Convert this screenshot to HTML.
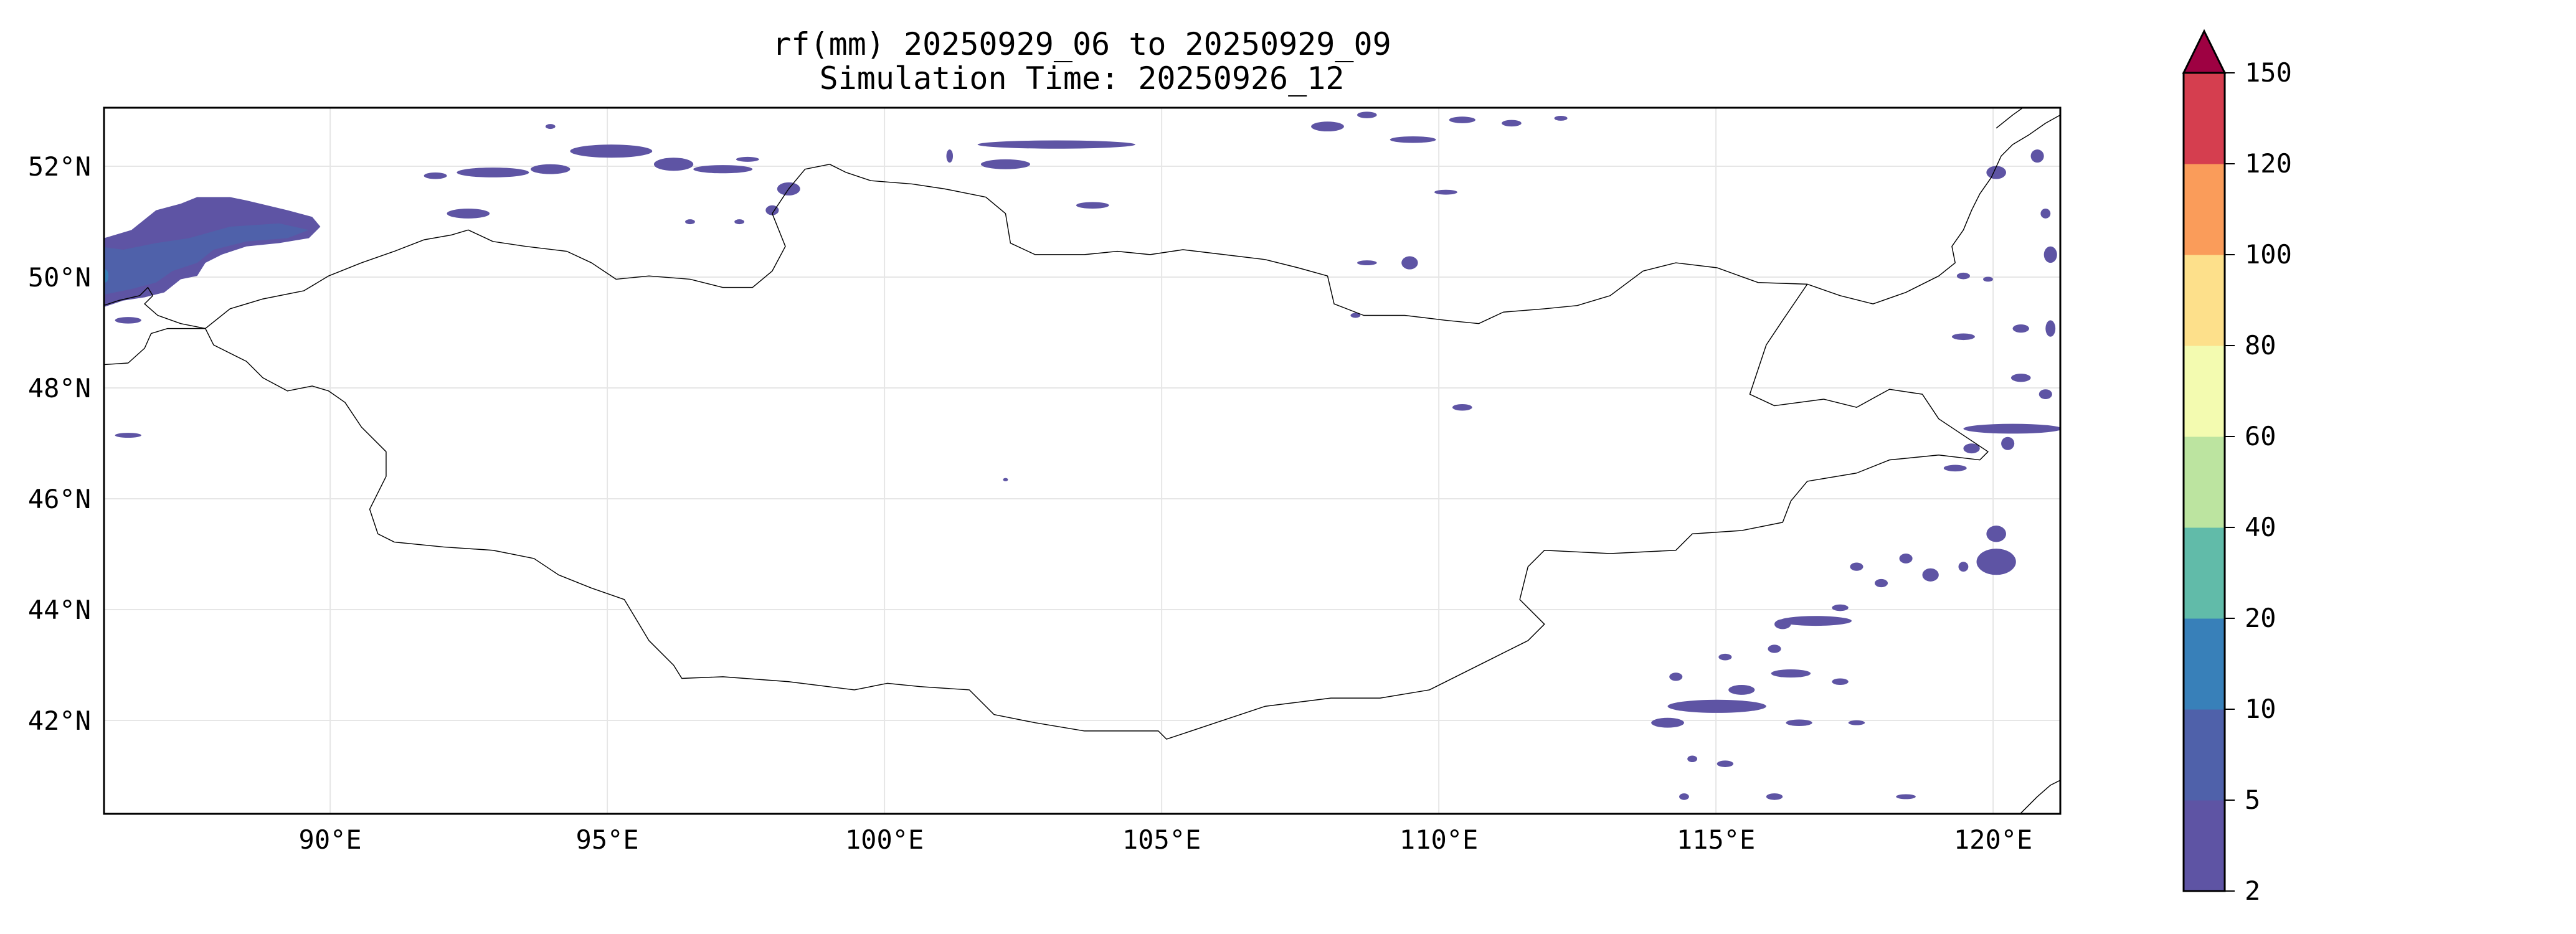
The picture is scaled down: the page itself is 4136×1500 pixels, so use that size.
<!DOCTYPE html>
<html><head><meta charset="utf-8"><style>
html,body{margin:0;padding:0;background:#fff;}
svg{display:block;font-family:"DejaVu Sans Mono","Liberation Mono",monospace;}
</style></head><body>
<svg id="fig" width="4136" height="1500" viewBox="0 0 4136 1500">
<text x="1737" y="88" text-anchor="middle" font-size="50">rf(mm) 20250929_06 to 20250929_09</text>
<text x="1737" y="143" text-anchor="middle" font-size="50">Simulation Time: 20250926_12</text>
<defs><clipPath id="clip"><rect x="167" y="173" width="3141" height="1134"/></clipPath></defs>
<g id="grid"></g>
<g clip-path="url(#clip)">
<g id="blobs" transform="scale(2.638)"></g>
<g id="borders" transform="scale(2.638)" fill="none" stroke="#000" stroke-width="0.55" stroke-linejoin="round"></g>
</g>
<rect x="167" y="173" width="3141" height="1134" fill="none" stroke="#000" stroke-width="3"/>
<g id="ticks" font-size="42"></g>
<g id="cbar"></g>
</svg>
<script>
const NS="http://www.w3.org/2000/svg";
const lonTicks=[90,95,100,105,110,115,120];
const latTicks=[42,44,46,48,50,52];
const cbLevels=[2,5,10,20,40,60,80,100,120,150];
const cbColors=["#5E54A4","#4F61AA","#3880B9","#61BBA9","#BCE4A0","#F3FBB0","#FDE08B","#FA9C5A","#D53E4F"];
const extendColor="#9E0142";
function X(lon){return 167+(lon-85.92)*89;}
function Y(lat){return 445-(lat-50)*89;}
function mk(tag,attrs,parent){const e=document.createElementNS(NS,tag);for(const k in attrs)e.setAttribute(k,attrs[k]);parent.appendChild(e);return e;}
const grid=document.getElementById('grid'),ticks=document.getElementById('ticks');
lonTicks.forEach(l=>{
 const g=mk('line',{x1:X(l),x2:X(l),y1:173,y2:1307,stroke:'#e6e6e6','stroke-width':2},grid);
 
 
 const t=mk('text',{x:X(l),y:1363,'text-anchor':'middle'},ticks);t.textContent=l+'°E';
 
 
});
latTicks.forEach(l=>{
 const g=mk('line',{x1:167,x2:3308,y1:Y(l),y2:Y(l),stroke:'#e6e6e6','stroke-width':2},grid);
 
 
 const t=mk('text',{x:146,y:Y(l)+15,'text-anchor':'end'},ticks);t.textContent=l+'°N';
 
 
});
const cb=document.getElementById('cbar');const cx=3506,cw=66,ctop=117,cbot=1431,n=cbColors.length,h=(cbot-ctop)/n;
cbColors.forEach((c,i)=>{const r=mk('rect',{x:cx,y:cbot-(i+1)*h,width:cw,height:h+0.5,fill:c},cb);
 
 });
const tri=mk('polygon',{points:`${cx},${ctop} ${cx+cw/2},${50} ${cx+cw},${ctop}`,fill:extendColor,stroke:'#000','stroke-width':3},cb);


mk('rect',{x:cx,y:ctop,width:cw,height:cbot-ctop,fill:'none',stroke:'#000','stroke-width':3},cb);
cbLevels.forEach((v,i)=>{const y=cbot-i*h;
 mk('line',{x1:cx+cw,x2:cx+cw+16,y1:y,y2:y,stroke:'#000','stroke-width':2},cb);
 const t=mk('text',{x:3604,y:y+14,'font-size':42},cb);t.textContent=v;
 
 });
const borders=[
"125,200 140,188 160,182 185,177 200,168 220,160 240,153 258,146 275,143 285,140 300,147 320,150 345,153 360,160 375,170 395,168 420,170 440,175 458,175 470,165 478,150 470,130 480,115 490,103 505,100 515,105 530,110 555,112 575,115 600,120 612,130 615,148 630,155 660,155 680,153 700,155 720,152 745,155 770,158 790,163 808,168 812,185 830,192 855,192 880,195 900,197 915,190 940,188 960,186 980,180 1000,165 1020,160 1045,163 1070,172 1100,173 1085,195 1075,210 1065,240 1080,247 1110,243 1130,248 1150,237 1170,240 1180,255 1195,265 1210,275 1205,280 1180,277 1150,280 1130,288 1100,293 1090,305 1085,318 1060,323 1030,325 1020,335 980,337 940,335 930,345 925,365 940,380 930,390 910,400 890,410 870,420 840,425 810,425 770,430 740,440 710,450 705,445 690,445 660,445 630,440 605,435 590,420 560,418 540,416 520,420 480,415 440,412 415,413 410,405 395,390 380,365 360,358 340,350 325,340 300,335 270,333 240,330 230,325 225,310 235,290 235,275 220,260 210,245 200,238 190,235 175,238 160,230 150,220 130,210 125,200",
"63,186 72,183 85,180 90,175 93,180 88,185 96,192 110,197 125,200",
"63,222 78,221 88,212 92,203 102,200 115,200 125,200",
"1100,173 1120,180 1140,185 1160,178 1180,168 1190,160 1188,150 1195,140 1200,128 1205,118 1212,108 1218,95 1225,88 1235,82 1245,75 1254,70",
"1215,78 1225,70 1232,65",
"1230,495 1240,485 1248,478 1254,475"];
const bg=document.getElementById('borders');
borders.forEach(p=>{const e=mk('polyline',{points:p},bg);
 
 });
const blobs=[[335,77,3,1.5,0],[265,107,7,2,0],[300,105,22,3,0],[335,103,12,3,0],[372,92,25,4,0],[410,100,12,4,0],[440,103,18,2.5,0],[455,97,7,1.5,0],[285,130,13,3,0],[480,115,7,4,0],[470,128,4,3,0],[420,135,3,1.5,0],[450,135,3,1.5,0],[643,88,48,2.5,0],[612,100,15,3,0],[578,95,2,4,0],[665,125,10,2,0],[808,77,10,3,0],[832,70,6,2,0],[860,85,14,2,0],[890,73,8,2,0],[920,75,6,2,0],[950,72,4,1.5,0],[880,117,7,1.5,0],[858,160,5,4,0],[832,160,6,1.5,0],[825,192,3,1.5,0],[78,195,8,2,0],[78,265,8,1.5,0],[890,248,6,2,0],[612,292,1.5,1,0],[1215,105,6,4,0],[1240,95,4,4,0],[1245,130,3,3,0],[1248,155,4,5,0],[1195,168,4,2,0],[1210,170,3,1.5,0],[1195,205,7,2,0],[1230,200,5,2.5,0],[1248,200,3,5,0],[1230,230,6,2.5,0],[1245,240,4,3,0],[1225,261,30,3,0],[1200,273,5,3,0],[1190,285,7,2,0],[1222,270,4,4,0],[1215,342,12,8,0],[1215,325,6,5,0],[1175,350,5,4,0],[1145,355,4,2.5,0],[1105,378,22,3,0],[1085,380,5,3,0],[1120,370,5,2,0],[1195,345,3,3,0],[1160,340,4,3,0],[1130,345,4,2.5,0],[1080,395,4,2.5,0],[1045,430,30,4,0],[1060,420,8,3,0],[1090,410,12,2.5,0],[1015,440,10,3,0],[1095,440,8,2,0],[1050,465,5,2,0],[1080,485,5,2,0],[1030,462,3,2,0],[1025,485,3,2,0],[1160,485,6,1.5,0],[1130,440,5,1.5,0],[1120,415,5,2,0],[1020,412,4,2.5,0],[1050,400,4,2,0]];
const gb=document.getElementById('blobs');
const big=mk('polygon',{points:"60,146 80,140 95,128 110,124 120,120 140,120 150,122 175,128 190,132 195,138 188,145 170,148 150,150 135,155 125,160 120,168 110,170 100,178 88,181 75,183 60,188",fill:cbColors[0]},gb);


const inner=mk('polygon',{points:"60,150 75,152 95,148 115,145 140,138 170,136 188,140 175,145 150,147 130,152 120,160 105,165 95,172 80,176 60,180",fill:cbColors[1]},gb);


const core=mk('ellipse',{cx:64,cy:168,rx:2,ry:4,fill:cbColors[2]},gb);


blobs.forEach(b=>{const e=mk('ellipse',{cx:b[0],cy:b[1],rx:b[2],ry:b[3],fill:cbColors[b[4]]},gb);
 
 });
</script>
</body></html>
